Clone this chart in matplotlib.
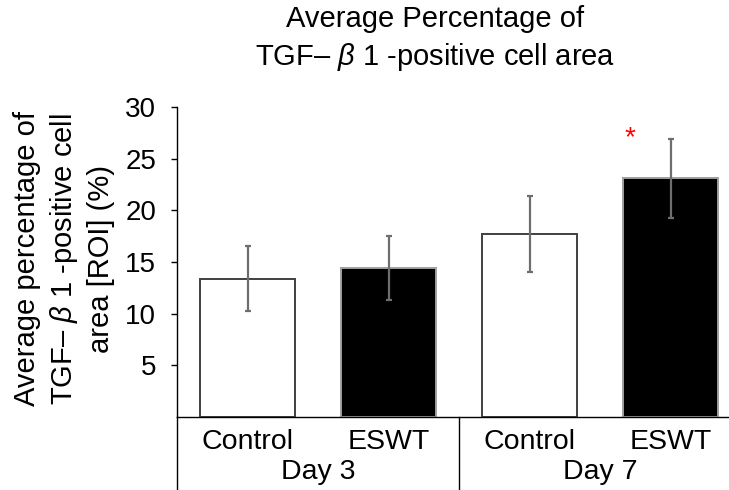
import matplotlib
matplotlib.use("Agg")
import matplotlib.pyplot as plt

plt.rcParams['font.family'] = ['Liberation Sans', 'DejaVu Sans']
plt.rcParams['mathtext.fontset'] = 'custom'
plt.rcParams['mathtext.rm'] = 'Liberation Sans'
plt.rcParams['mathtext.it'] = 'Liberation Sans:italic'

groups = ["Day 3", "Day 7"]
treatments = ["Control", "ESWT", "Control", "ESWT"]
means = [13.4, 14.4, 17.7, 23.1]
errors = [3.1, 3.1, 3.65, 3.8]
yticks = [5, 10, 15, 20, 25, 30]
significant = [False, False, False, True]

fig = plt.figure(figsize=(7.29, 4.90), dpi=100)
ax = fig.add_axes([177/729, 1-417/490, (729-177)/729, (417-107)/490])

x = list(range(len(means)))
face = ['white', 'black', 'white', 'black']
edge = ['#404040', '#a0a0a0', '#404040', '#a0a0a0']
ax.bar(x, means, width=0.667, color=face, edgecolor=edge, linewidth=1.4, zorder=2)
ax.errorbar(x, means, yerr=errors, fmt='none', ecolor='#6e6e6e', elinewidth=1.6,
            capsize=2.5, capthick=1.6, zorder=3)

ax.set_xlim(-0.5, (729-177)/141 - 0.5)
ax.set_ylim(0, 30)
ax.set_yticks(yticks)
ax.set_yticklabels([str(t) for t in yticks], fontsize=20)
ax.tick_params(axis='y', length=4, width=1, pad=11)
ax.set_xticks([])
for s in ['top', 'right']:
    ax.spines[s].set_visible(False)
ax.spines['left'].set_linewidth(1)
ax.spines['bottom'].set_linewidth(1)

# extended axis lines for category grouping
ax.plot([-0.5, -0.5], [0, -0.3], transform=ax.get_xaxis_transform(), color='black',
        lw=1, clip_on=False)
ax.plot([1.5, 1.5], [0, -0.3], transform=ax.get_xaxis_transform(), color='black',
        lw=1, clip_on=False)

for xi, t in zip(x, treatments):
    ax.text(xi, -0.082, t, transform=ax.get_xaxis_transform(), ha='center', va='center',
            fontsize=20.5)
for gi, g in enumerate(groups):
    ax.text(gi*2 + 0.5, -0.178, g, transform=ax.get_xaxis_transform(), ha='center',
            va='center', fontsize=20.5)

for xi, m, e, sig in zip(x, means, errors, significant):
    if sig:
        ax.text(xi - 0.29, m + e + 0.1, '*', color='red', ha='center', va='center',
                fontsize=20)

fig.text(435/729, 1-39/490, "Average Percentage of\nTGF\u2013 $\\mathit{\\beta}$ 1 -positive cell area",
         ha='center', va='center', fontsize=21, linespacing=1.3)

fig.text(64/729, 1-259/490,
         "Average percentage of\nTGF\u2013 $\\mathit{\\beta}$ 1 -positive cell\narea [ROI] (%)",
         ha='center', va='center', rotation=90, fontsize=21, linespacing=1.3)

fig.savefig("out.png", dpi=100)
